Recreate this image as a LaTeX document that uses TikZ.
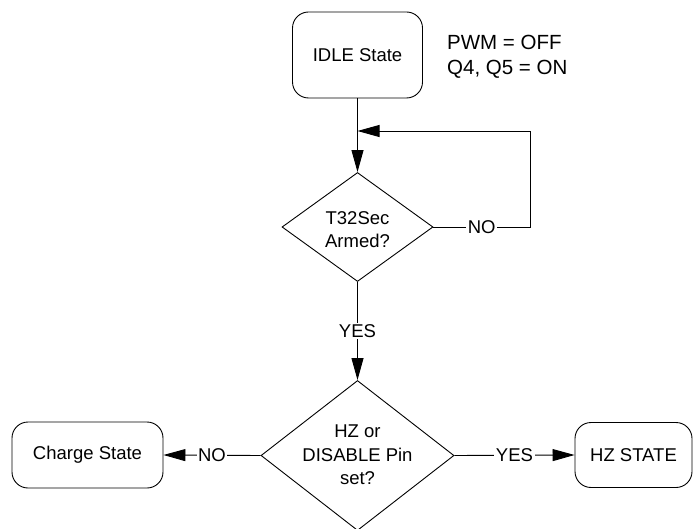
\documentclass[tikz,border=0pt]{standalone}
\usepackage{fontspec}
\setmainfont{Liberation Sans}
\usetikzlibrary{shapes.geometric,arrows.meta}
\begin{document}
\begin{tikzpicture}[x=1pt,y=-1pt,
  every node/.style={font=\fontsize{18.5}{23.5}\selectfont},
  box/.style={draw, rounded corners=16pt, inner sep=0pt, line width=0.9pt},
  dec/.style={draw, diamond, inner sep=0pt, line width=0.9pt},
  lbl/.style={fill=white, inner sep=1.5pt},
  conn/.style={line width=0.9pt},
  arr/.style={conn, -{Triangle[length=22pt,width=12pt]}}
]
\useasboundingbox (0,0) rectangle (693,529);
% nodes
\node[box, minimum width=130pt, minimum height=86pt] (idle) at (357.5,55) {IDLE State};
\node[anchor=north west, inner sep=0pt, align=left, font=\fontsize{20.5}{25}\selectfont] (ann) at (447,35) {PWM = OFF\\Q4, Q5 = ON};
\node[dec, minimum width=151pt, minimum height=109pt] (d1) at (357.5,227) {};
\node[align=center, inner sep=0pt] (t1) at (357.5,229.5) {T32Sec\\Armed?};
\node[dec, minimum width=193pt, minimum height=150pt] (d2) at (357.5,455.5) {};
\node[align=center, inner sep=0pt] (t2) at (357.5,455) {HZ or\\DISABLE Pin\\set?};
\node[box, minimum width=151pt, minimum height=66pt] (charge) at (87.5,455) {Charge State};
\node[box, minimum width=117pt, minimum height=65pt] (hz) at (633.5,455) {HZ STATE};
\coordinate (c1) at (530,227);
\coordinate (j) at (357.5,131);
% connectors
\draw[arr] (idle.south) -- (d1.north);
\draw[arr] (d1.east) -- node[lbl]{NO} (c1) |- (j);
\draw[arr] (d1.south) -- node[lbl]{YES} (d2.north);
\draw[arr] (d2.west) -- node[lbl]{NO} (charge.east);
\draw[arr] (d2.east) -- node[lbl]{YES} (hz.west);
\end{tikzpicture}
\end{document}
